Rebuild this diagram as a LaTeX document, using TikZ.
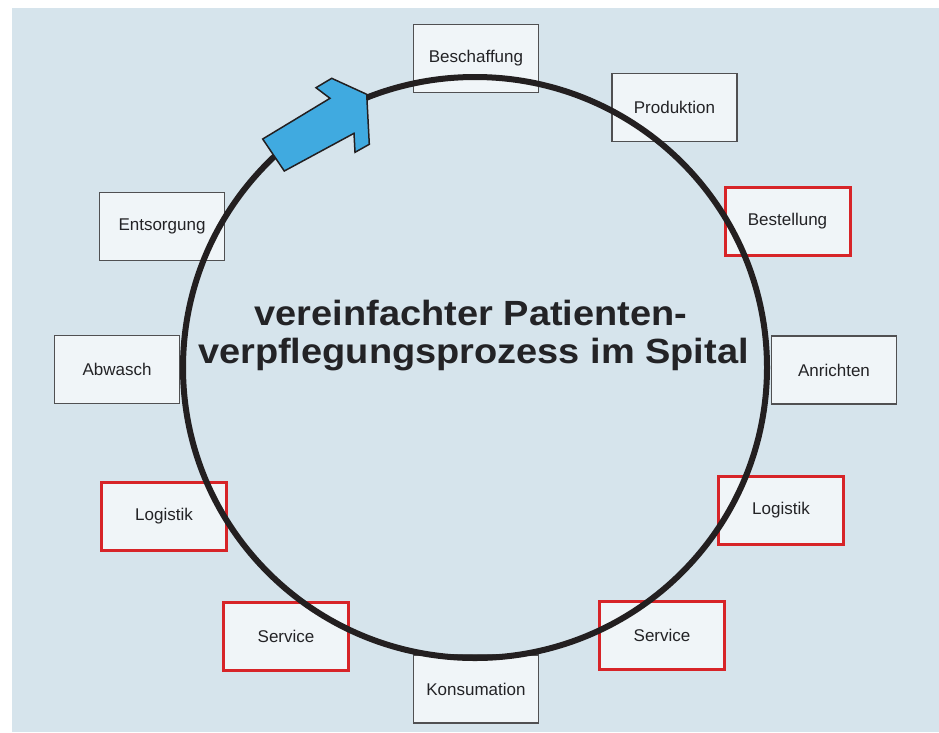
\documentclass[tikz,border=0pt]{standalone}
\usepackage{fontspec}
\setmainfont{Liberation Sans}
\definecolor{bgblue}{RGB}{214,228,236}
\definecolor{boxfill}{RGB}{240,245,248}
\definecolor{boxline}{RGB}{80,80,82}
\definecolor{boxred}{RGB}{215,36,40}
\definecolor{txt}{RGB}{35,35,38}
\definecolor{ringcol}{RGB}{35,31,32}
\definecolor{arrowblue}{RGB}{64,170,224}
\begin{document}
\begin{tikzpicture}[x=1pt,y=-1pt,
  stepbox/.style={draw=boxline, line width=1.2pt, fill=boxfill,
    minimum width=125pt, minimum height=68pt, inner sep=0pt,
    font=\fontsize{17}{20}\selectfont, text=txt},
  redbox/.style={stepbox, draw=boxred, line width=3pt},
  ring/.style={draw=ringcol, line width=6pt},
  titletext/.style={font=\bfseries\fontsize{35}{38}\selectfont, text=txt, anchor=base, inner sep=0pt},
  bigarrow/.style={fill=arrowblue, draw=ringcol, line width=1.5pt, line join=miter}]
\useasboundingbox (0,0) rectangle (939,732);
\fill[white] (0,0) rectangle (939,732);
\fill[bgblue] (12,8) rectangle (939,732);

% boxes
\node[stepbox] (besch) at (476,58.5) {Beschaffung};
\node[stepbox] (prod) at (674.5,107.5) {Produktion};
\node[redbox] (best) at (787.5,221) {Bestellung};
\node[stepbox] (anr) at (834,370) {Anrichten};
\node[redbox] (logr) at (781,510.5) {Logistik};
\node[redbox] (servr) at (662,635) {Service};
\node[stepbox] (kons) at (476,689) {Konsumation};
\node[redbox] (servl) at (286,636) {Service};
\node[redbox] (logl) at (164,516) {Logistik};
\node[stepbox] (abw) at (117,369.5) {Abwasch};
\node[stepbox] (ents) at (162,226.5) {Entsorgung};

% ring
\draw[ring] (475,367.5) ellipse [x radius=292, y radius=290.5];

% arrow
\draw[bigarrow] (262.7,139) -- (330,98.3) -- (316,87.7) -- (331.7,78.3)
  -- (366.7,94.3) -- (369.3,144.3) -- (355,152.3) -- (354,133.3)
  -- (284.3,171) -- cycle;

% title
\node[titletext] (title1) at (471,325) {\scalebox{1.085}[1]{vereinfachter Patienten-}};
\node[titletext] (title2) at (473.5,363) {\scalebox{1.085}[1]{verpflegungsprozess im Spital}};
\end{tikzpicture}
\end{document}
